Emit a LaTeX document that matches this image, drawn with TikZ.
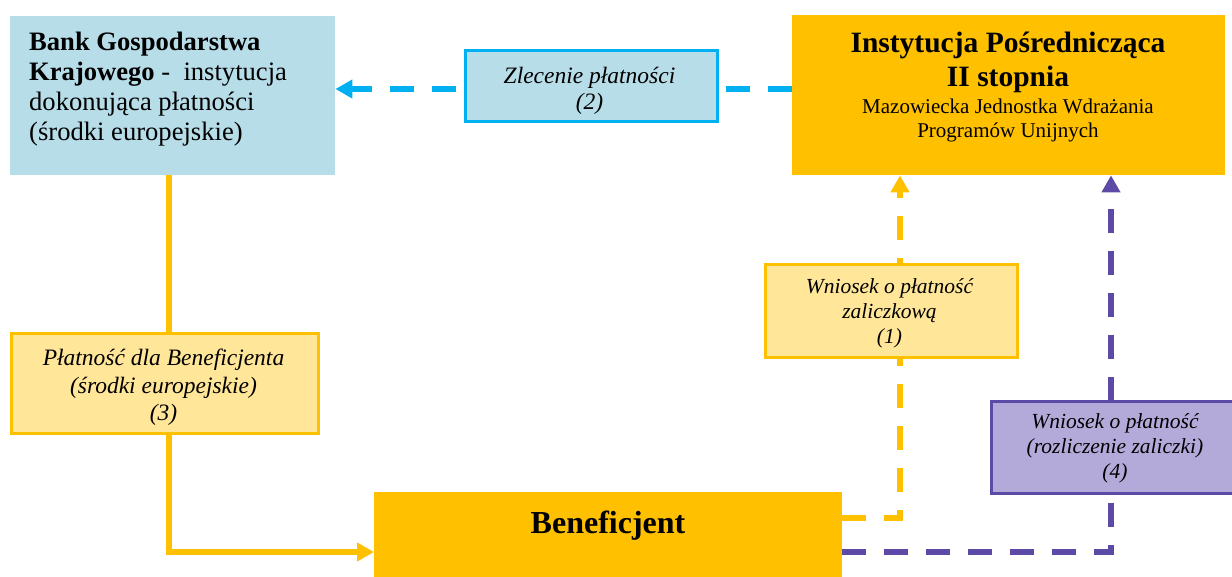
\documentclass[tikz,border=0pt]{standalone}
\usepackage{fontspec}
\setmainfont{Liberation Serif}
\usetikzlibrary{arrows.meta,backgrounds}
\definecolor{gold}{HTML}{FFC000}
\definecolor{cyanline}{HTML}{00B0F0}
\definecolor{lblue}{HTML}{B7DDE8}
\definecolor{paleyel}{HTML}{FFE699}
\definecolor{lpurple}{HTML}{B4AADA}
\definecolor{purline}{HTML}{5C4AA6}
\tikzset{
  boxbase/.style={rectangle, inner sep=0pt, anchor=north west},
  bankbox/.style={boxbase, fill=lblue},
  orangebox/.style={boxbase, fill=gold},
  zlbox/.style={boxbase, fill=lblue, draw=cyanline, line width=3pt},
  yelbox/.style={boxbase, fill=paleyel, draw=gold, line width=3pt},
  purbox/.style={boxbase, fill=lpurple, draw=purline, line width=3pt},
  txt/.style={inner sep=0pt, align=center},
  conn/.style={line width=5.5pt},
  dashconn/.style={conn, dash pattern=on 24pt off 18pt},
  arrowtip/.style={-{Triangle[length=17pt,width=18pt]}},
}
\begin{document}
\begin{tikzpicture}[x=1pt,y=-1pt]
\useasboundingbox (0,0) rectangle (1232,577);
\clip (0,0) rectangle (1232,577);
% boxes
\node[bankbox, minimum width=325pt, minimum height=159pt] (bank) at (10,16) {};
\node[orangebox, minimum width=433pt, minimum height=160pt] (ip) at (792,15) {};
\node[zlbox, minimum width=252pt, minimum height=71pt] (zl) at (463.5,49.5) {};
\node[yelbox, minimum width=252pt, minimum height=93pt] (b1) at (763.5,263.5) {};
\node[purbox, minimum width=260pt, minimum height=92pt] (b4) at (989.5,399.5) {};
\node[yelbox, minimum width=307pt, minimum height=99pt] (b3) at (9.5,332.5) {};
\node[orangebox, minimum width=468pt, minimum height=95pt] (ben) at (374,492) {};
% texts
\node[txt, anchor=north west, align=left, font=\fontsize{26.6}{30}\selectfont] (banktxt) at (29,32)
  {\textbf{Bank Gospodarstwa}\\\textbf{Krajowego} -\ \ instytucja\\dokonująca płatności\\(środki europejskie)};
\node[txt, anchor=north, font=\bfseries\fontsize{29.5}{34}\selectfont] (iptitle) at (1008,32)
  {Instytucja Pośrednicząca\\II stopnia};
\node[txt, anchor=north, font=\fontsize{21}{24}\selectfont] (ipsub) at (1008,99)
  {Mazowiecka Jednostka Wdrażania\\Programów Unijnych};
\node[txt, anchor=north, font=\itshape\fontsize{23.5}{26}\selectfont] (zltxt) at (589.5,67)
  {Zlecenie płatności\\(2)};
\node[txt, anchor=north, font=\itshape\fontsize{21.5}{25}\selectfont] (b1txt) at (889.5,278)
  {Wniosek o płatność\\zaliczkową\\(1)};
\node[txt, anchor=north, font=\itshape\fontsize{21.5}{25}\selectfont] (b4txt) at (1115,413)
  {Wniosek o płatność\\(rozliczenie zaliczki)\\(4)};
\node[txt, anchor=north, font=\itshape\fontsize{23.5}{27.5}\selectfont] (b3txt) at (163.5,349)
  {Płatność dla Beneficjenta\\(środki europejskie)\\(3)};
\node[txt, anchor=base, font=\bfseries\fontsize{32}{38}\selectfont] (bentxt) at (608,533) {Beneficjent};
% helper coordinates
\coordinate (yb) at (0,89);
\coordinate (y1) at (0,518);
\coordinate (y2) at (0,552);
\coordinate (x1) at (900,0);
\coordinate (x2) at (1111,0);
\coordinate (x0) at (169,0);
% connectors
\begin{scope}[on background layer]
\draw[dashconn, cyanline, arrowtip] (ip.west |- yb) -- (bank.east |- yb);
\draw[dashconn, gold, arrowtip] (ben.east |- y1) -| (x1 |- ip.south);
\draw[dashconn, purline, arrowtip] (ben.east |- y2) -| (x2 |- ip.south);
\draw[conn, gold] (bank.south -| x0) -- (b3.north -| x0);
\draw[conn, gold, arrowtip] (b3.south -| x0) |- (ben.west |- y2);
\end{scope}
\end{tikzpicture}
\end{document}
